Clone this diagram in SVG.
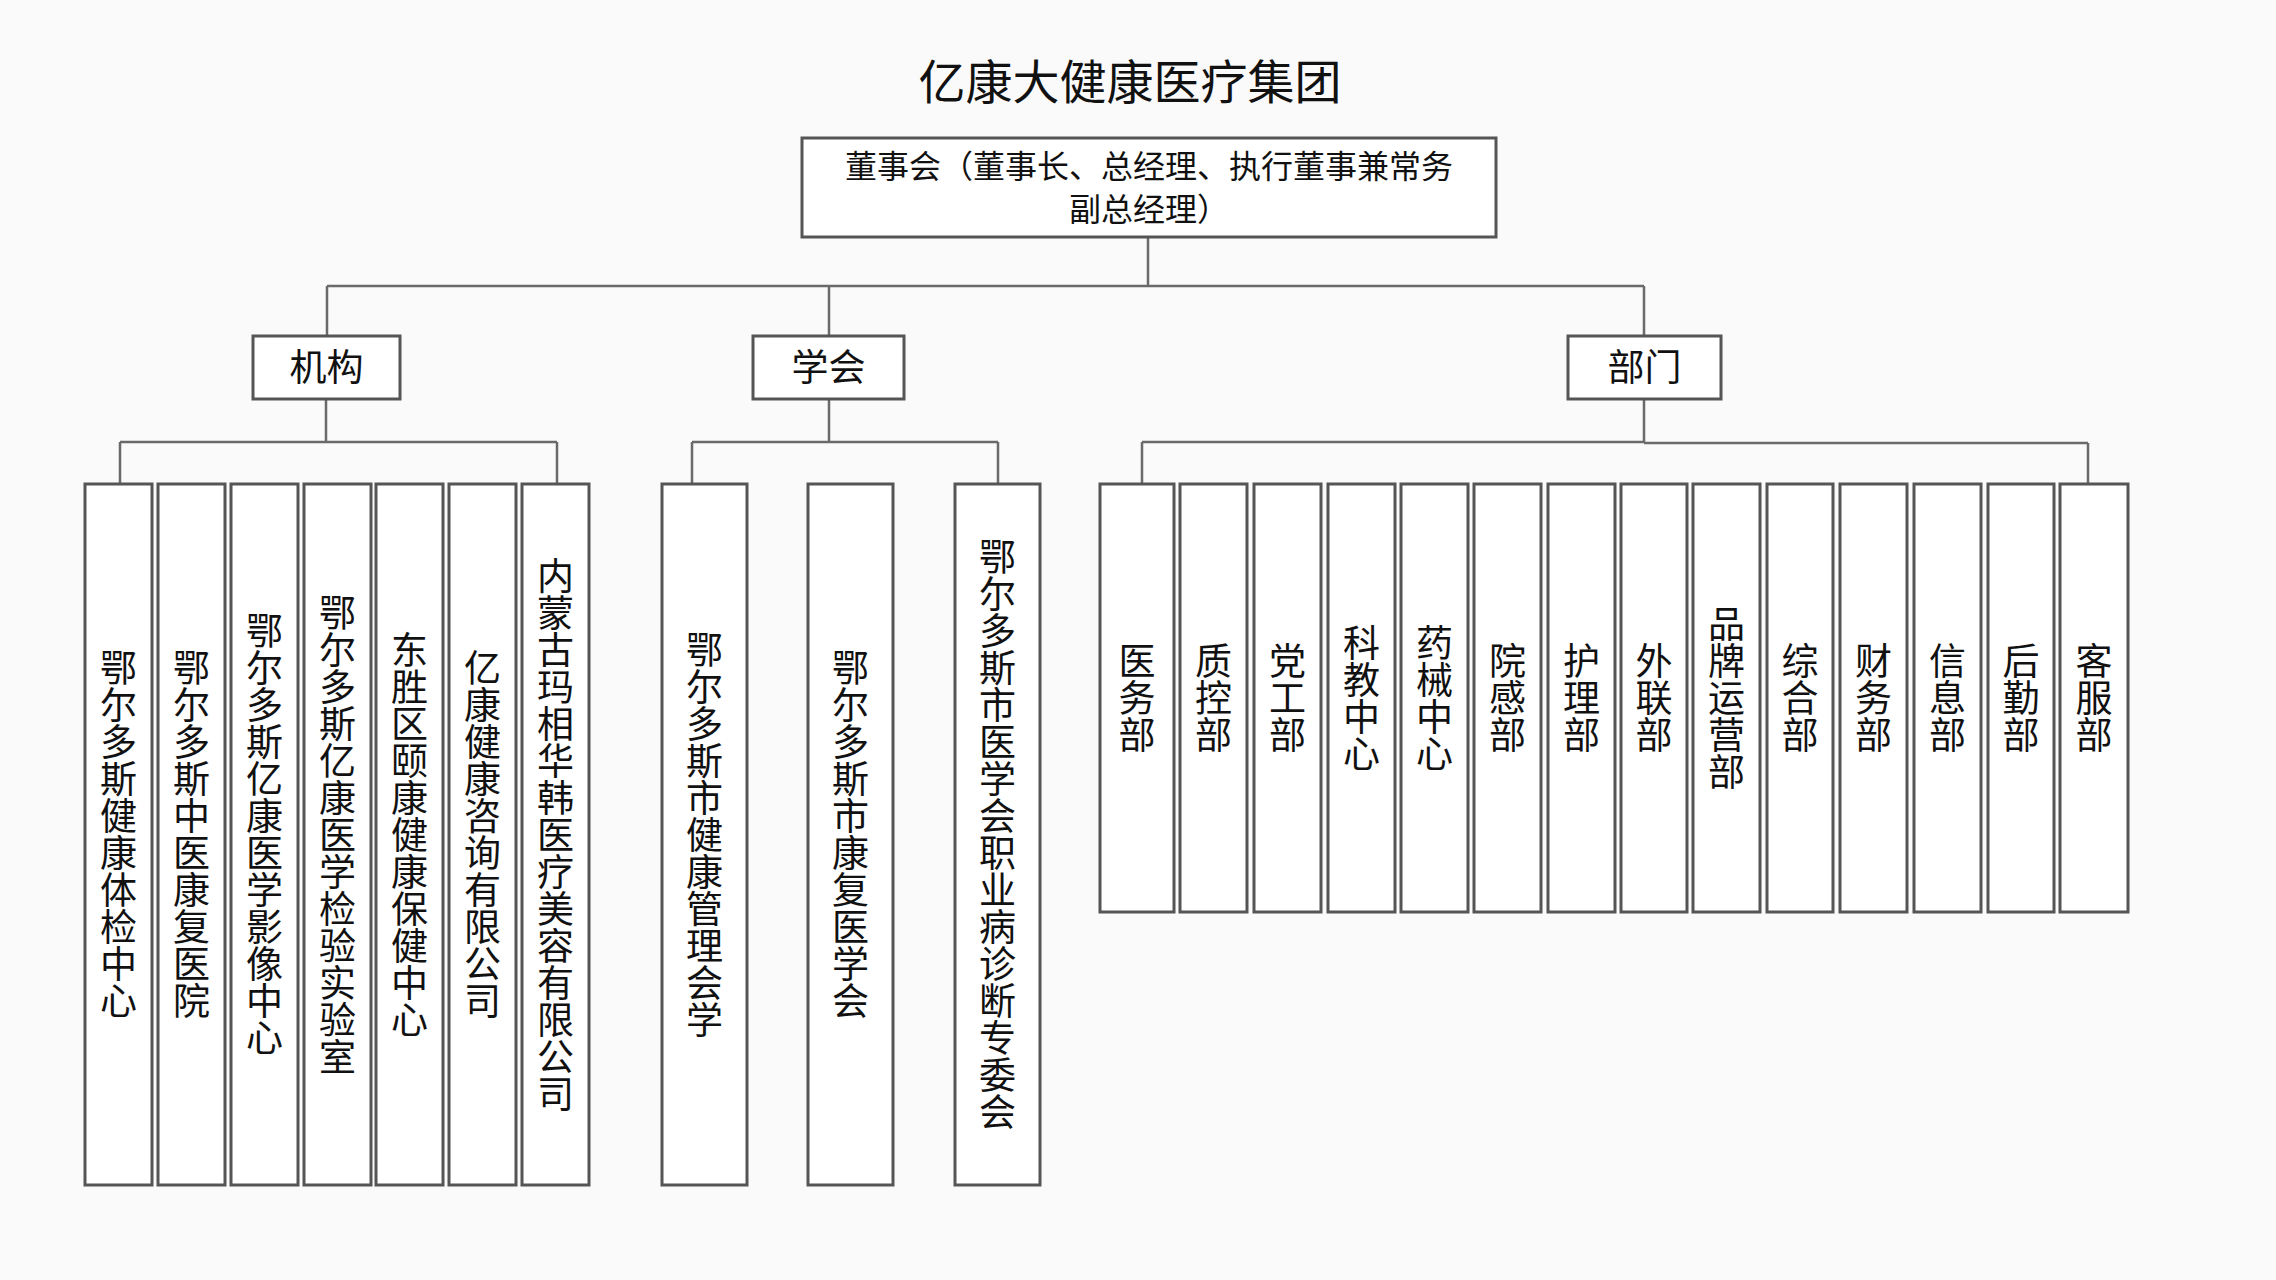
<svg xmlns="http://www.w3.org/2000/svg" width="2276" height="1280" viewBox="0 0 2276 1280">
<style>
.bg{fill:#fafafa}
.box{fill:#ffffff;stroke:#555555;stroke-width:3}
.ln{fill:none;stroke:#6a6a6a;stroke-width:2.5}
.t{font-family:"Noto Sans CJK SC","Noto Sans",sans-serif;fill:#111111}
.h{font-size:37px;text-anchor:middle}
.v{font-size:37px;text-anchor:middle;writing-mode:vertical-rl}
</style>
<rect class="bg" x="0" y="0" width="2276" height="1280"/>
<text class="t" x="1130" y="99" font-size="47" text-anchor="middle">亿康大健康医疗集团</text>
<g id="connectors">
<path class="ln" d="M1148 237V286M327 286H1644M327 286V336M829 286V336M1644 286V336"/>
<path class="ln" d="M326 399V442M120 442H557M120 442V484M557 442V484"/>
<path class="ln" d="M829 399V442M692 442H998M692 442V484M998 442V484"/>
<path class="ln" d="M1644 399V442M1142 442H1644M1644 443H2088M1142 442V484M2088 443V484"/>
</g>
<g id="board"><rect class="box" x="802" y="138" width="694" height="99"/>
<text class="t" font-size="32" text-anchor="middle"><tspan x="1149" y="178">董事会（董事长、总经理、执行董事兼常务</tspan><tspan x="1149" y="221">副总经理）</tspan></text></g>
<g id="jigou"><rect class="box" x="253" y="336" width="147" height="63"/><text class="t h" x="326.5" y="381">机构</text></g>
<g id="xuehui"><rect class="box" x="753" y="336" width="151" height="63"/><text class="t h" x="828.5" y="381">学会</text></g>
<g id="bumen"><rect class="box" x="1568" y="336" width="153" height="63"/><text class="t h" x="1644.5" y="381">部门</text></g>
<g id="j1"><rect class="box" x="85" y="484" width="67" height="701"/><text class="t v" x="118.5" y="834.5">鄂尔多斯健康体检中心</text></g>
<g id="j2"><rect class="box" x="158" y="484" width="67" height="701"/><text class="t v" x="191.5" y="834.5">鄂尔多斯中医康复医院</text></g>
<g id="j3"><rect class="box" x="231" y="484" width="67" height="701"/><text class="t v" x="264.5" y="834.5">鄂尔多斯亿康医学影像中心</text></g>
<g id="j4"><rect class="box" x="304" y="484" width="67" height="701"/><text class="t v" x="337.5" y="834.5">鄂尔多斯亿康医学检验实验室</text></g>
<g id="j5"><rect class="box" x="376" y="484" width="67" height="701"/><text class="t v" x="409.5" y="834.5">东胜区颐康健康保健中心</text></g>
<g id="j6"><rect class="box" x="449" y="484" width="67" height="701"/><text class="t v" x="482.5" y="834.5">亿康健康咨询有限公司</text></g>
<g id="j7"><rect class="box" x="522" y="484" width="67" height="701"/><text class="t v" x="555.5" y="834.5">内蒙古玛相华韩医疗美容有限公司</text></g>
<g id="x1"><rect class="box" x="662" y="484" width="85" height="701"/><text class="t v" x="704.5" y="834.5">鄂尔多斯市健康管理会学</text></g>
<g id="x2"><rect class="box" x="808" y="484" width="85" height="701"/><text class="t v" x="850.5" y="834.5">鄂尔多斯市康复医学会</text></g>
<g id="x3"><rect class="box" x="955" y="484" width="85" height="701"/><text class="t v" x="997.5" y="834.5">鄂尔多斯市医学会职业病诊断专委会</text></g>
<g id="d1"><rect class="box" x="1100" y="484" width="74" height="428"/><text class="t v" x="1137" y="698">医务部</text></g>
<g id="d2"><rect class="box" x="1180" y="484" width="67" height="428"/><text class="t v" x="1213.5" y="698">质控部</text></g>
<g id="d3"><rect class="box" x="1254" y="484" width="67" height="428"/><text class="t v" x="1287.5" y="698">党工部</text></g>
<g id="d4"><rect class="box" x="1328" y="484" width="67" height="428"/><text class="t v" x="1361.5" y="698">科教中心</text></g>
<g id="d5"><rect class="box" x="1401" y="484" width="67" height="428"/><text class="t v" x="1434.5" y="698">药械中心</text></g>
<g id="d6"><rect class="box" x="1474" y="484" width="67" height="428"/><text class="t v" x="1507.5" y="698">院感部</text></g>
<g id="d7"><rect class="box" x="1548" y="484" width="67" height="428"/><text class="t v" x="1581.5" y="698">护理部</text></g>
<g id="d8"><rect class="box" x="1621" y="484" width="66" height="428"/><text class="t v" x="1654" y="698">外联部</text></g>
<g id="d9"><rect class="box" x="1693" y="484" width="67" height="428"/><text class="t v" x="1726.5" y="698">品牌运营部</text></g>
<g id="d10"><rect class="box" x="1767" y="484" width="66" height="428"/><text class="t v" x="1800" y="698">综合部</text></g>
<g id="d11"><rect class="box" x="1840" y="484" width="67" height="428"/><text class="t v" x="1873.5" y="698">财务部</text></g>
<g id="d12"><rect class="box" x="1914" y="484" width="67" height="428"/><text class="t v" x="1947.5" y="698">信息部</text></g>
<g id="d13"><rect class="box" x="1988" y="484" width="66" height="428"/><text class="t v" x="2021" y="698">后勤部</text></g>
<g id="d14"><rect class="box" x="2060" y="484" width="68" height="428"/><text class="t v" x="2094" y="698">客服部</text></g>
</svg>
